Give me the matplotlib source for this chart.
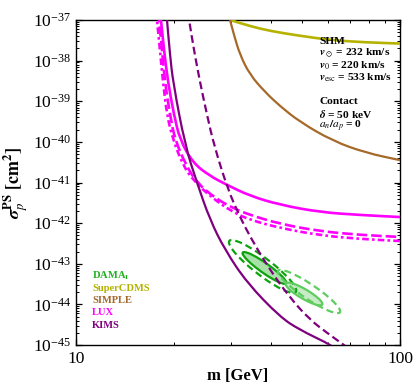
import numpy as np
import matplotlib
matplotlib.use("Agg")
import matplotlib.pyplot as plt
from matplotlib.ticker import LogLocator, NullFormatter, FixedLocator
from matplotlib.path import Path
from matplotlib.patches import PathPatch
from matplotlib.transforms import IdentityTransform

plt.rcParams['mathtext.fontset'] = 'stix'
plt.rcParams['font.family'] = ['Liberation Serif', 'DejaVu Serif']

# ---------------- data (m in GeV, log10 sigma in cm^2) ----------------
lux_solid_m = [18.2, 18.29, 18.69, 19.23, 20.07, 20.94, 22.96, 25.92, 29.24, 34.44, 42.62, 56.63, 75.24, 100]
lux_solid_ls = [-36.8, -37.0, -37.74, -38.53, -39.34, -39.95, -40.52, -40.84, -41.06, -41.33, -41.55, -41.73, -41.80, -41.85]

lux_dash_m = [17.95, 18.04, 18.43, 18.82, 19.51, 20.21, 21.85, 23.63, 26.85, 30.51, 34.44, 42.62, 56.63, 75.24, 100]
lux_dash_ls = [-36.8, -37.0, -37.74, -38.53, -39.34, -39.95, -40.57, -41.01, -41.38, -41.63, -41.80, -42.02, -42.20, -42.29, -42.34]

lux_dot_m = [17.7, 17.78, 18.16, 18.56, 19.09, 19.93, 21.39, 22.96, 26.30, 30.51, 34.44, 42.62, 56.63, 75.24, 100]
lux_dot_ls = [-36.8, -37.0, -37.74, -38.53, -39.34, -39.95, -40.57, -40.94, -41.38, -41.73, -41.92, -42.12, -42.30, -42.39, -42.44]

kims_solid_m = [19.0, 19.09, 19.51, 19.93, 21.70, 23.63, 25.92, 28.83, 33.72, 42.62, 49.13, 59.53, 62.12]
kims_solid_ls = [-36.8, -37.0, -37.86, -38.53, -40.08, -41.01, -41.92, -42.66, -43.47, -44.31, -44.63, -44.95, -45.05]

kims_dash_m = [22.2, 22.33, 23.13, 24.14, 25.38, 26.66, 29.45, 32.08, 34.44, 39.13, 45.76, 52.76, 59.53, 67.65]
kims_dash_ls = [-36.8, -37.0, -37.74, -38.53, -39.34, -40.08, -41.18, -41.85, -42.33, -43.08, -43.84, -44.38, -44.70, -45.02]

scdms_m = [29.88, 34.44, 39.70, 49.13, 62.12, 78.54, 100]
scdms_ls = [-37.0, -37.15, -37.27, -37.39, -37.50, -37.55, -37.58]

simple_m = [29.88, 30.74, 32.08, 34.44, 38.30, 42.62, 49.13, 62.12, 78.54, 100]
simple_ls = [-37.0, -37.37, -37.86, -38.35, -38.77, -39.12, -39.51, -39.98, -40.27, -40.45]

# DAMA contours (closed), lower-mass set (dark) and higher-mass set (light)
dama1_outer_m = [48.1, 47.5, 44.0, 39.1, 34.4, 31.0, 29.5, 29.9, 32.2, 36.2, 41.1, 45.6]
dama1_outer_ls = [-43.72, -43.545, -43.242, -42.893, -42.59, -42.415, -42.415, -42.59, -42.893, -43.242, -43.545, -43.72]
dama1_inner_m = [44.8, 44.3, 42.1, 38.96, 35.9, 33.6, 32.5, 32.9, 34.6, 37.4, 40.6, 43.4]
dama1_inner_ls = [-43.498, -43.395, -43.215, -43.004, -42.822, -42.713, -42.711, -42.814, -42.994, -43.206, -43.388, -43.496]
dama2_outer_m = [65.8, 64.7, 60.3, 54.0, 48.0, 43.6, 41.7, 42.4, 45.6, 50.8, 57.2, 62.9]
dama2_outer_ls = [-44.212, -44.065, -43.816, -43.53, -43.284, -43.146, -43.154, -43.302, -43.55, -43.836, -44.082, -44.22]
dama2_inner_m = [57.8, 57.3, 54.9, 51.5, 48.0, 45.4, 44.2, 44.6, 46.5, 49.7, 53.3, 56.3]
dama2_inner_ls = [-44.015, -43.927, -43.789, -43.639, -43.516, -43.457, -43.474, -43.563, -43.70, -43.851, -43.974, -44.033]

legend_labels = [r"DAMA$_\mathbf{I}$", "SuperCDMS", "SIMPLE", "LUX", "KIMS"]
info_lines = ["SHM", r"$\boldsymbol{v}_\odot$ = 232 km/s", r"$\boldsymbol{v}_0$ = 220 km/s",
              r"$\boldsymbol{v}_{\rm esc}$ = 533 km/s", "", "Contact", r"$\boldsymbol{\delta}$ = 50 keV",
              r"$\boldsymbol{a_n/a_p}$ = 0"]

# ---------------- colours ----------------
C_DAMA1 = '#0ea30e'
C_DAMA2 = '#5fcc5f'
C_SCDMS = '#b5b300'
C_SIMPLE = '#a5692a'
C_LUX = '#ff00ff'
C_KIMS = '#7f007f'
legend_colors = ['#20b020', C_SCDMS, C_SIMPLE, C_LUX, C_KIMS]

fig = plt.figure(figsize=(4.13, 3.90), dpi=100)
ax = fig.add_axes([76/413, 1-345/390, 324/413, 325/390])
ax.set_xscale('log')
ax.set_yscale('log')
ax.set_xlim(10, 100)
ax.set_ylim(1e-45, 1e-37)


def smooth_path(m, ls, closed=False):
    """Quadratic-Bezier path through the midpoints of the read points,
    built in display space after mapping the data through the axes' log scales."""
    data = np.column_stack([np.asarray(m, float), 10.0 ** np.asarray(ls, float)])
    pts = ax.transData.transform(data)
    if closed:
        n = len(pts)
        mids = [(pts[i] + pts[(i + 1) % n]) / 2 for i in range(n)]
        verts = [mids[-1]]
        codes = [Path.MOVETO]
        for i in range(n):
            verts += [pts[i], mids[i]]
            codes += [Path.CURVE3, Path.CURVE3]
        return Path(verts, codes)
    verts = [pts[0], (pts[0] + pts[1]) / 2]
    codes = [Path.MOVETO, Path.LINETO]
    for i in range(1, len(pts) - 1):
        verts += [pts[i], (pts[i] + pts[i + 1]) / 2]
        codes += [Path.CURVE3, Path.CURVE3]
    verts.append(pts[-1])
    codes.append(Path.LINETO)
    return Path(verts, codes)


def draw(m, ls, color, lw, ls_style='-', closed=False, z=3, fill=None, alpha=1.0):
    p = smooth_path(m, ls, closed)
    if fill is not None:
        patch = PathPatch(p, facecolor=fill, edgecolor='none', alpha=alpha, zorder=1,
                          transform=IdentityTransform())
    else:
        patch = PathPatch(p, facecolor='none', edgecolor=color, lw=lw, linestyle=ls_style,
                          zorder=z, capstyle='butt', transform=IdentityTransform())
    ax.add_patch(patch)
    patch.set_clip_path(ax.patch)


# DAMA fills
draw(dama1_inner_m, dama1_inner_ls, None, 0, closed=True, fill='#8ad88a', alpha=0.75)
draw(dama2_inner_m, dama2_inner_ls, None, 0, closed=True, fill='#b4e6b4', alpha=0.75)

DASH = (0, (3.2, 1.8))
draw(dama1_outer_m, dama1_outer_ls, C_DAMA1, 1.6, DASH, closed=True)
draw(dama1_inner_m, dama1_inner_ls, C_DAMA1, 1.6, '-', closed=True)
draw(dama2_outer_m, dama2_outer_ls, C_DAMA2, 1.6, DASH, closed=True)
draw(dama2_inner_m, dama2_inner_ls, C_DAMA2, 1.6, '-', closed=True)

# LUX
draw(lux_solid_m, lux_solid_ls, C_LUX, 1.9, '-', z=4)
draw(lux_dash_m, lux_dash_ls, C_LUX, 1.9, (0, (4, 1.5)), z=4)
draw(lux_dot_m, lux_dot_ls, C_LUX, 1.9, (0, (2.5, 1.2, 1.0, 1.2)), z=4)

# KIMS
draw(kims_solid_m, kims_solid_ls, C_KIMS, 1.6, '-', z=5)
draw(kims_dash_m, kims_dash_ls, C_KIMS, 1.6, (0, (3.5, 1.8)), z=5)

# SuperCDMS, SIMPLE
draw(scdms_m, scdms_ls, C_SCDMS, 1.9, '-', z=4)
draw(simple_m, simple_ls, C_SIMPLE, 1.6, '-', z=4)

# ticks
ax.xaxis.set_major_locator(FixedLocator([10, 100]))
ax.xaxis.set_minor_locator(FixedLocator([20, 30, 40, 50, 60, 70, 80, 90]))
ax.xaxis.set_minor_formatter(NullFormatter())
ax.set_xticklabels(['10', '100'])
ax.yaxis.set_major_locator(LogLocator(base=10, numticks=20))
ax.yaxis.set_minor_locator(LogLocator(base=10, subs=np.arange(2, 10), numticks=100))
ax.yaxis.set_minor_formatter(NullFormatter())
ax.tick_params(which='both', direction='in', top=True, right=True, labelsize=12.5)
ax.tick_params(which='major', length=4, width=0.9)
ax.tick_params(which='minor', length=2.2, width=0.7)
ax.tick_params(axis='x', pad=4)
for lab in ax.get_xticklabels() + ax.get_yticklabels():
    lab.set_fontfamily('Liberation Serif')
for s in ax.spines.values():
    s.set_linewidth(1.0)

ax.set_xlabel("m [GeV]", fontsize=12, fontweight='bold', labelpad=1)
ax.set_ylabel(r"$\boldsymbol{\sigma}_p^{\mathbf{PS}}$ $\mathbf{[cm^2]}$", fontsize=13, labelpad=2)

# legend text
for i, (lab, col) in enumerate(zip(legend_labels, legend_colors)):
    fig.text(92/413, 1 - (276 + 12.3*i)/390, lab, color=col, fontsize=7.6, fontweight='bold',
             va='center', ha='left', family='Liberation Serif')

# info text
ys_px = [41, 53, 66, 78, 0, 102, 114, 126]
for t, ypx in zip(info_lines, ys_px):
    if t:
        fig.text(319/413, 1 - ypx/390, t, fontsize=8.2, fontweight='bold', va='center', ha='left',
                 family='Liberation Serif')

fig.savefig("out.png", dpi=100)
